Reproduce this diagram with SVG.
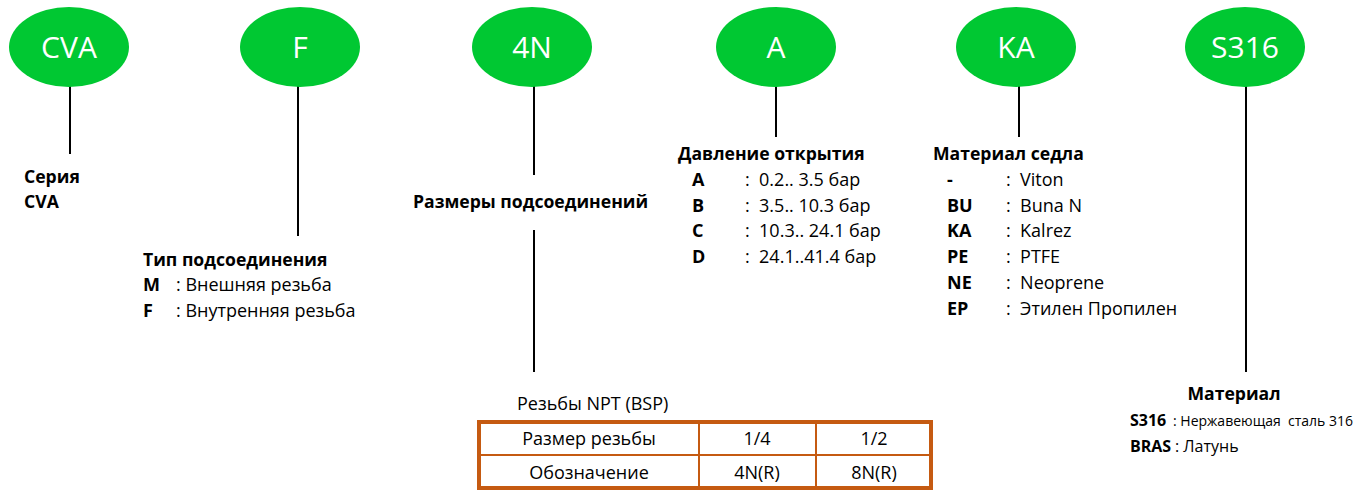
<svg xmlns="http://www.w3.org/2000/svg" width="1362" height="491" viewBox="0 0 1362 491">
<style>
.bub{fill:#00C832}
.bt{font-family:"Open Sans","Liberation Sans",sans-serif;font-size:30px;fill:#fff;text-anchor:middle}
.ln{stroke:#000;stroke-width:2;fill:none}
.h{font-family:"Open Sans","Liberation Sans",sans-serif;font-size:17.6px;font-weight:bold;fill:#000}
.t{font-family:"Open Sans","Liberation Sans",sans-serif;font-size:18px;fill:#000;white-space:pre}
.b{font-weight:bold}
.c{text-anchor:middle}
.sm{font-size:16px}
.nw{font-size:14px}
.tb{fill:none;stroke:#C55A11}
</style>
<rect width="1362" height="491" fill="#fff"/>
<g id="connectors">
<line class="ln" x1="70" y1="86" x2="70" y2="154"/>
<line class="ln" x1="298" y1="86" x2="298" y2="236"/>
<line class="ln" x1="534" y1="86" x2="534" y2="175"/>
<line class="ln" x1="534" y1="230" x2="534" y2="372"/>
<line class="ln" x1="776" y1="86" x2="776" y2="137"/>
<line class="ln" x1="1019" y1="86" x2="1019" y2="137"/>
<line class="ln" x1="1246" y1="86" x2="1246" y2="372"/>
</g>
<g id="node-cva">
<ellipse class="bub" cx="69" cy="47" rx="60" ry="40"/>
<text class="bt" x="69" y="58">CVA</text>
<text class="h" x="24" y="183">Серия</text>
<text class="h" x="24" y="208">CVA</text>
</g>
<g id="node-f">
<ellipse class="bub" cx="300" cy="47" rx="60" ry="40"/>
<text class="bt" x="300" y="58">F</text>
<text class="h" x="143" y="266">Тип подсоединения</text>
<text class="t" x="143" y="291"><tspan class="b">M</tspan><tspan x="176">: Внешняя резьба</tspan></text>
<text class="t" x="143" y="317"><tspan class="b">F</tspan><tspan x="176">: Внутренняя резьба</tspan></text>
</g>
<g id="node-4n">
<ellipse class="bub" cx="532" cy="47" rx="60" ry="40"/>
<text class="bt" x="532" y="58">4N</text>
<text class="h" x="413" y="208">Размеры подсоединений</text>
</g>
<g id="node-a">
<ellipse class="bub" cx="776" cy="47" rx="60" ry="40"/>
<text class="bt" x="776" y="58">A</text>
<text class="h" x="678" y="160">Давление открытия</text>
<text class="t" x="692" y="186"><tspan class="b">A</tspan><tspan x="745">:  0.2.. 3.5 бар</tspan></text>
<text class="t" x="692" y="212"><tspan class="b">B</tspan><tspan x="745">:  3.5.. 10.3 бар</tspan></text>
<text class="t" x="692" y="237"><tspan class="b">C</tspan><tspan x="745">:  10.3.. 24.1 бар</tspan></text>
<text class="t" x="692" y="263"><tspan class="b">D</tspan><tspan x="745">:  24.1..41.4 бар</tspan></text>
</g>
<g id="node-ka">
<ellipse class="bub" cx="1016" cy="47" rx="60" ry="40"/>
<text class="bt" x="1016" y="58">KA</text>
<text class="h" x="933" y="160">Материал седла</text>
<text class="t" x="947" y="186"><tspan class="b">-</tspan><tspan x="1006">:  Viton</tspan></text>
<text class="t" x="947" y="212"><tspan class="b">BU</tspan><tspan x="1006">:  Buna N</tspan></text>
<text class="t" x="947" y="237"><tspan class="b">KA</tspan><tspan x="1006">:  Kalrez</tspan></text>
<text class="t" x="947" y="263"><tspan class="b">PE</tspan><tspan x="1006">:  PTFE</tspan></text>
<text class="t" x="947" y="289"><tspan class="b">NE</tspan><tspan x="1006">:  Neoprene</tspan></text>
<text class="t" x="947" y="315"><tspan class="b">EP</tspan><tspan x="1006">:  Этилен Пропилен</tspan></text>
</g>
<g id="node-s316">
<ellipse class="bub" cx="1245" cy="47" rx="60" ry="40"/>
<text class="bt" x="1245" y="58">S316</text>
<text class="h c" x="1234" y="400">Материал</text>
<text class="t b sm" x="1130" y="426">S316</text>
<text class="t nw" x="1173" y="426">: Нержавеющая  сталь 316</text>
<text class="t b sm" x="1130" y="452">BRAS</text>
<text class="t" x="1175" y="452" style="font-size:16px">: Латунь</text>
</g>
<g id="node-table">
<text class="t" x="517" y="410">Резьбы NPT (BSP)</text>
<rect class="tb" x="479" y="422" width="452" height="66" stroke-width="4"/>
<line class="tb" x1="479" y1="455" x2="931" y2="455" stroke-width="2"/>
<line class="tb" x1="699" y1="422" x2="699" y2="488" stroke-width="2"/>
<line class="tb" x1="816" y1="422" x2="816" y2="488" stroke-width="2"/>
<text class="t c" x="589" y="445">Размер резьбы</text>
<text class="t c" x="757" y="445">1/4</text>
<text class="t c" x="874" y="445">1/2</text>
<text class="t c" x="589" y="479">Обозначение</text>
<text class="t c" x="757" y="479">4N(R)</text>
<text class="t c" x="874" y="479">8N(R)</text>
</g>
</svg>
